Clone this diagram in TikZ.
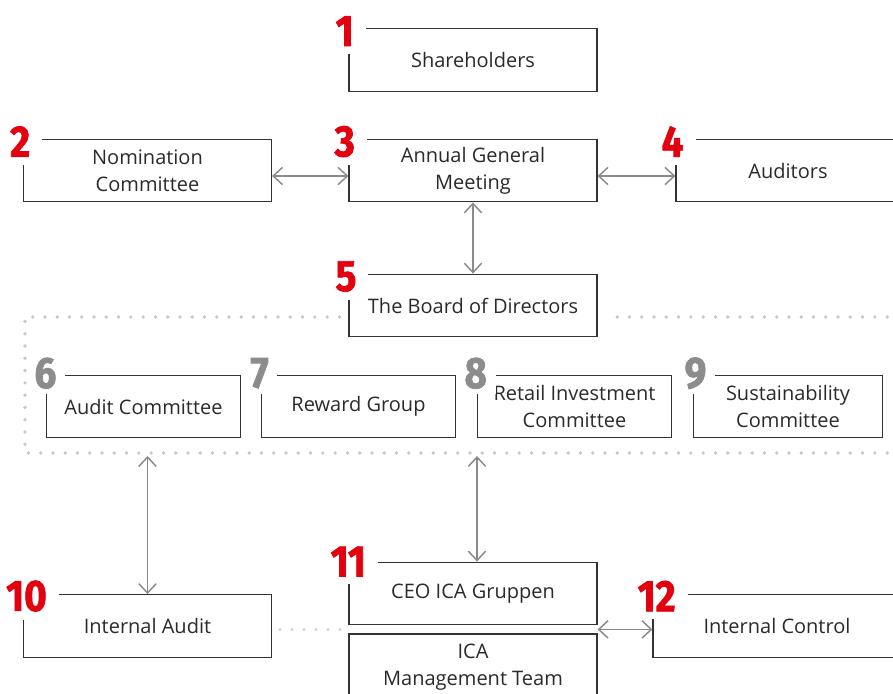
\documentclass[tikz,border=0pt]{standalone}
\usepackage{fontspec}
\setmainfont{Open Sans}
\newfontfamily\numfont{Fira Sans}[FakeStretch=0.88, FakeBold=1.6]
\usetikzlibrary{arrows.meta,calc}
\definecolor{icared}{HTML}{E3000F}
\definecolor{numgray}{HTML}{8C8C8C}
\definecolor{linkgray}{HTML}{8A8A8A}
\definecolor{dotgray}{HTML}{C8C8C8}
\definecolor{boxline}{HTML}{333333}
\definecolor{txt}{HTML}{2A2A2A}
\tikzset{
  unit/.style={draw=boxline, line width=0.9pt, minimum width=186pt, minimum height=47pt,
    align=center, text=txt, inner sep=0pt, font=\fontsize{15}{20}\selectfont},
  num/.style={anchor=west, fill=white, inner xsep=9pt, inner ysep=6pt, text=icared,
    font=\numfont\bfseries\fontsize{33}{33}\selectfont},
  subnum/.style={num, text=numgray, inner xsep=6.5pt, inner ysep=4pt},
  link/.style={draw=linkgray, line width=1.1pt,
    {Straight Barb[length=7pt,width=13pt]}-{Straight Barb[length=7pt,width=13pt]}},
  frame/.style={draw=dotgray, line width=2.8pt, line cap=round, dash pattern=on 0pt off 9.2pt},
}
\begin{document}
\begin{tikzpicture}[x=0.75pt, y=-0.75pt]
    \useasboundingbox (0,0) rectangle (893,693);
    \clip (0,0) rectangle (893,693);

    \node[unit] (share) at (473,60) {Shareholders};
    \node[unit] (nomin) at (147.5,170.5) {Nomination\\Committee};
    \node[unit] (agm) at (473,170.5) {Annual General\\Meeting};
    \node[unit, minimum width=168pt] (audit) at (788,170.5) {Auditors};
    \node[unit] (board) at (473,305.5) {The Board of Directors};

    \node[unit, minimum width=146pt, minimum height=46pt] (auditc) at (143.5,406.5) {Audit Committee};
    \node[unit, minimum width=146pt, minimum height=46pt] (reward) at (358.5,406.5) {Reward Group};
    \node[unit, minimum width=146pt, minimum height=46pt] (retail) at (574.5,406.5) {Retail Investment\\Committee};
    \node[unit, minimum width=142pt, minimum height=46pt] (sustain) at (788,406.5) {Sustainability\\Committee};

    \node[unit] (intaudit) at (147.5,626) {Internal Audit};
    \node[unit] (ceo) at (473,593.5) {CEO ICA Gruppen};
    \node[unit, minimum height=49.5pt] (ica) at (473,667) {ICA\\Management Team};
    \node[unit] (intctrl) at (777,626) {Internal Control};

    \node[num] at ([shift={(-25,3)}]share.north west) {1};
    \node[num] at ([shift={(-25,3)}]nomin.north west) {2};
    \node[num] at ([shift={(-26,3)}]agm.north west) {3};
    \node[num] at ([shift={(-26,3)}]audit.north west) {4};
    \node[num] at ([shift={(-25,3)}]board.north west) {5};
    \node[subnum] at ([shift={(-20,-2)}]auditc.north west) {6};
    \node[subnum] at ([shift={(-19,-2)}]reward.north west) {7};
    \node[subnum] at ([shift={(-21,-2)}]retail.north west) {8};
    \node[subnum] at ([shift={(-17,-2)}]sustain.north west) {9};
    \node[num] at ([shift={(-29,2)}]intaudit.north west) {10};
    \node[num] at ([shift={(-30,0)}]ceo.north west) {11};
    \node[num] at ([shift={(-27,2)}]intctrl.north west) {12};

    \coordinate (ftl) at (25,317);
    \coordinate (fbr) at (905,453);
    \draw[frame] ($(board.west |- ftl)+(-9,0)$) -- (ftl) -- (ftl |- fbr) -- (fbr) -- (fbr |- ftl) -- ($(board.east |- ftl)+(9,0)$);

    \coordinate (row) at (0,176);
    \coordinate (fb) at (0,456);
    \coordinate (mid) at ($(ceo.south east)!0.5!(ica.north east)$);
    \draw[link] (nomin.east |- row) -- (agm.west |- row);
    \draw[link] (agm.east |- row) -- (audit.west |- row);
    \draw[link] (agm.south) -- (board.north);
    \draw[link] (intaudit.north) -- (intaudit.north |- fb);
    \draw[link] ([xshift=3pt]ceo.north) -- ([xshift=3pt]ceo.north |- fb);
    \draw[link] (mid) -- (mid -| intctrl.west);
    \draw[frame, line width=2.2pt, dash pattern=on 0pt off 9pt] ($(intaudit.east |- mid)+(8,0)$) -- ($(ica.west |- mid)+(-8,0)$);
\end{tikzpicture}
\end{document}
